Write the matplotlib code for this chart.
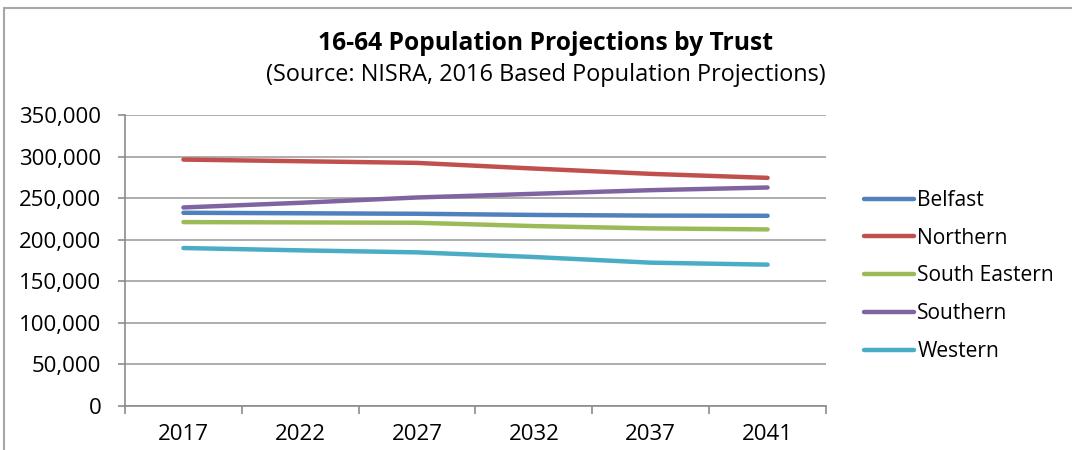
import matplotlib
matplotlib.use('Agg')
from matplotlib import pyplot as plt
from matplotlib.patches import Rectangle

plt.rcParams['font.family'] = ['Open Sans', 'DejaVu Sans']

years = ["2017", "2022", "2027", "2032", "2037", "2041"]
belfast = [232400, 231800, 231200, 229800, 229000, 228800]
northern = [296400, 294400, 292400, 285600, 279200, 274400]
south_eastern = [221200, 220800, 220400, 216400, 213600, 212400]
southern = [238800, 244400, 250800, 255200, 259600, 262800]
western = [190000, 187200, 184800, 179200, 172400, 170000]

names = ["Belfast", "Northern", "South Eastern", "Southern", "Western"]
colours = ["#4F81BD", "#C0504D", "#9BBB59", "#8064A2", "#4BACC6"]
series = [belfast, northern, south_eastern, southern, western]

W, H = 1072, 450
fig = plt.figure(figsize=(W/100, H/100), dpi=100)

# chart frame (only top/left edges fall inside the image)
fig.patches.append(Rectangle((4/W, -0.1), 1.2, (H-8)/H + 0.1, transform=fig.transFigure,
                             fill=False, edgecolor='#a6a6a6', linewidth=1.5))

ax = fig.add_axes([125/W, (H-406)/H, 701/W, (406-115)/H])
x = list(range(len(years)))
for vals, name, c in zip(series, names, colours):
    ax.plot(x, vals, color=c, linewidth=3.2, label=name, solid_capstyle='round')

ax.set_xlim(-0.5, len(years)-0.5)
ax.set_ylim(0, 350000)
ax.set_yticks(range(0, 350001, 50000))
ax.set_yticklabels(["{:,}".format(v) for v in range(0, 350001, 50000)], fontsize=16)
ax.yaxis.grid(True, color='#a0a0a0', linewidth=1.2)
ax.set_axisbelow(True)

ax.set_xticks(x)
ax.set_xticklabels(years, fontsize=16)
ax.tick_params(axis='x', length=0, pad=13)
ax.set_xticks([i - 0.5 for i in range(len(years)+1)], minor=True)
ax.tick_params(axis='x', which='minor', length=6, color='#8c8c8c', width=1.2)
ax.tick_params(axis='y', length=5, color='#8c8c8c', width=1.2, pad=12)

for s in ['top', 'right']:
    ax.spines[s].set_visible(False)
for s in ['left', 'bottom']:
    ax.spines[s].set_color('#8c8c8c')
    ax.spines[s].set_linewidth(1.2)

fig.text(545/W, 1-44/H, "16-64 Population Projections by Trust", ha='center', va='center',
         fontsize=17.7, fontweight='bold')
fig.text(546/W, 1-75/H, "(Source: NISRA, 2016 Based Population Projections)", ha='center',
         va='center', fontsize=16.9)

fig.legend(loc='center left', bbox_to_anchor=(845/W, 1-276/H), frameon=False, fontsize=15.1,
           handlelength=2.4, handletextpad=0.15, labelspacing=0.8)

fig.savefig('out.png', dpi=100)
